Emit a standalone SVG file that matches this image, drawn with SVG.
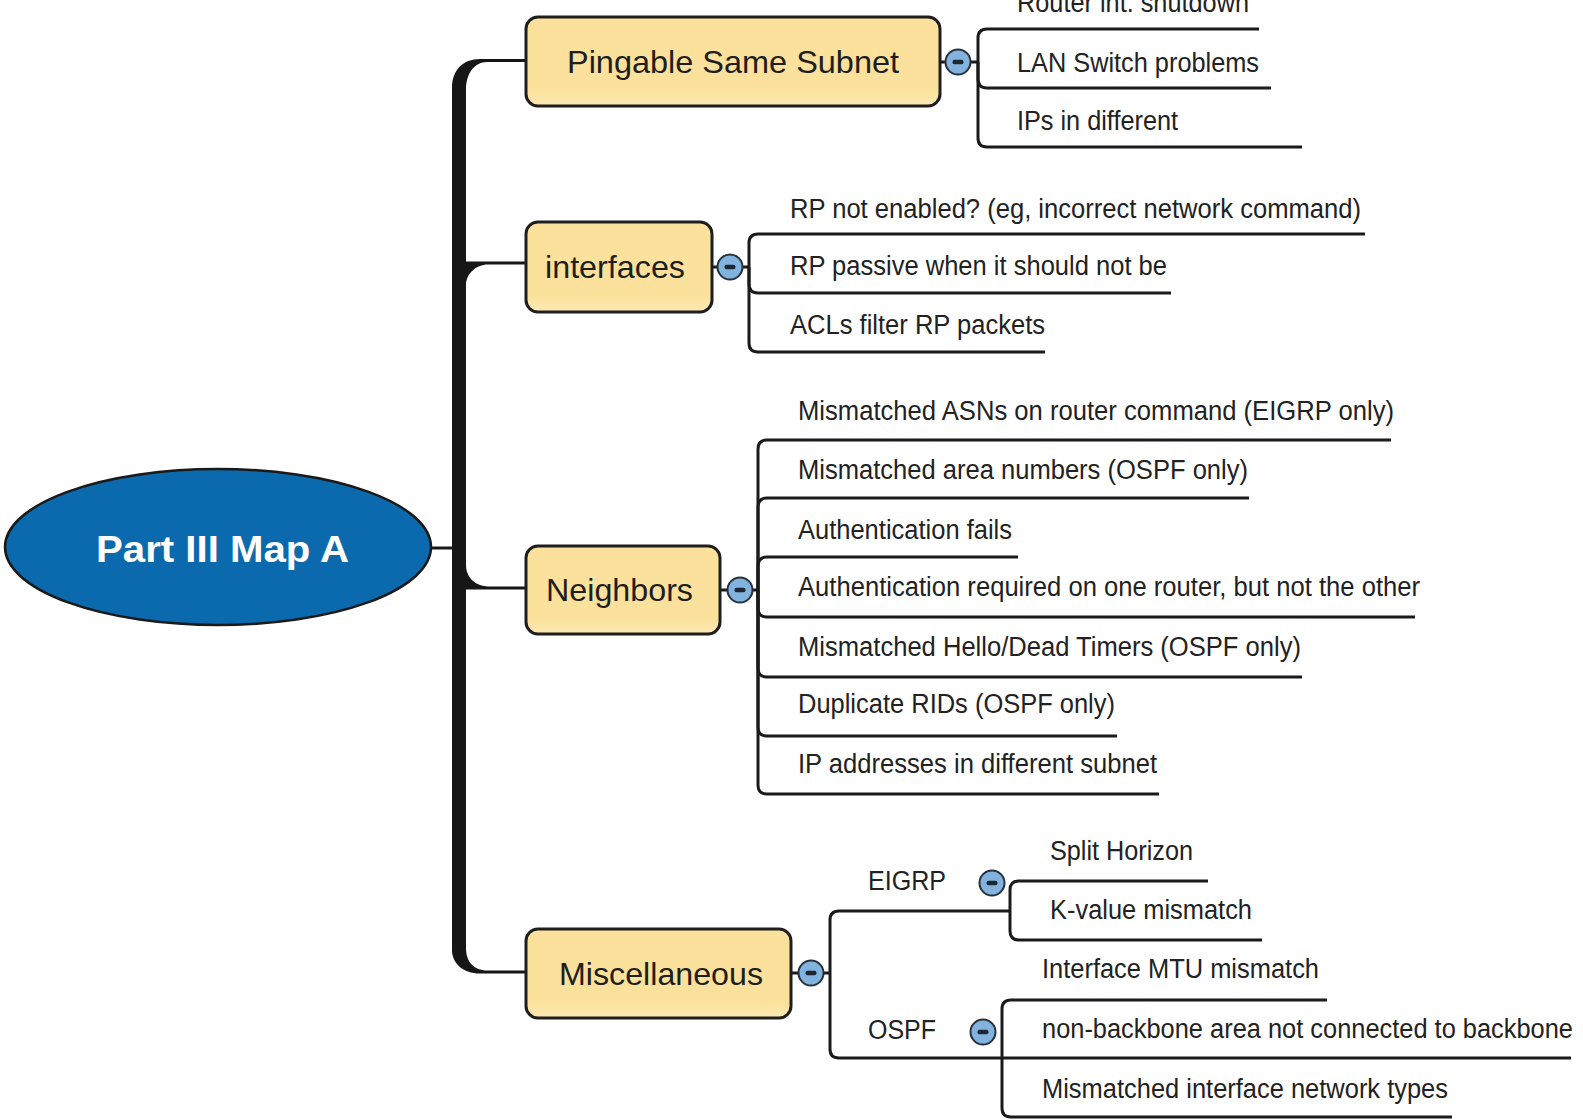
<svg xmlns="http://www.w3.org/2000/svg" width="1583" height="1120" viewBox="0 0 1583 1120">
  <defs>
    <linearGradient id="boxFill" x1="0" y1="0" x2="0" y2="1">
      <stop offset="0" stop-color="#FBE19B"/>
      <stop offset="0.82" stop-color="#FBE19B"/>
      <stop offset="1" stop-color="#FDEAB4"/>
    </linearGradient>
    <g id="toggle">
      <circle r="12.5" fill="#82B3DE" stroke="#27313B" stroke-width="2"/>
      <rect x="-5.5" y="-2.2" width="11" height="4.4" rx="2" fill="#1C2733"/>
    </g>
  </defs>
  <style>
    .box { fill: url(#boxFill); stroke: #1E1E1E; stroke-width: 3; }
    .boxText { font-family: "Liberation Sans", Arial, sans-serif; font-size: 32px; fill: #1E1E1E; }
    .leaf { font-family: "Liberation Sans", Arial, sans-serif; font-size: 27px; fill: #222222; }
    .wire { fill: none; stroke: #1A1A1A; stroke-width: 3; stroke-linecap: butt; }
    .trunk { fill: #161616; }
  </style>

  <rect width="1583" height="1120" fill="#FFFFFF"/>

  <!-- connectors -->
  <g id="connectors">
    <!-- main trunk with its four branches -->
    <path class="trunk" d="M526,59 H480 C463,59 452,70 452,88 V950 C452,963 463,973.5 480,973.5 H526 V970.5 H487 C474,970.5 466,962 466,948 V589.5 H526 V586.5 H490 C476,586.5 466,578 466,565 V285 C466,274 476,264.5 488,264.5 H526 V261.5 H466 V90 C466,74 474,62 487,62 H526 Z"/>
    <line class="wire" x1="430" y1="548" x2="453" y2="548"/>

    <!-- Pingable Same Subnet -->
    <path class="wire" d="M940,62 H946 M970,62 H978"/>
    <path class="wire" d="M978,62 V38 Q978,29 987,29 H1259"/>
    <path class="wire" d="M978,62 V79 Q978,88 987,88 H1271"/>
    <path class="wire" d="M978,62 V138 Q978,147 987,147 H1302"/>

    <!-- interfaces -->
    <path class="wire" d="M712,267 H718 M742,267 H749"/>
    <path class="wire" d="M749,267 V243 Q749,234 758,234 H1365"/>
    <path class="wire" d="M749,267 V284 Q749,293 758,293 H1171"/>
    <path class="wire" d="M749,267 V343 Q749,352 758,352 H1045"/>

    <!-- Neighbors -->
    <path class="wire" d="M720,590 H728 M752,590 H758"/>
    <path class="wire" d="M758,590 V449 Q758,440 767,440 H1391"/>
    <path class="wire" d="M758,590 V507 Q758,498 767,498 H1249"/>
    <path class="wire" d="M758,590 V566 Q758,557 767,557 H1018"/>
    <path class="wire" d="M758,590 V608 Q758,617 767,617 H1415"/>
    <path class="wire" d="M758,590 V668 Q758,677 767,677 H1302"/>
    <path class="wire" d="M758,590 V727 Q758,736 767,736 H1117"/>
    <path class="wire" d="M758,590 V785 Q758,794 767,794 H1159"/>

    <!-- Miscellaneous -->
    <path class="wire" d="M791,973 H799 M823,973 H830"/>
    <path class="wire" d="M830,973 V920 Q830,911 839,911 H1010"/>
    <path class="wire" d="M830,973 V1049 Q830,1058 839,1058 H1571"/>

    <!-- EIGRP -->
    <path class="wire" d="M1010,911 V890 Q1010,881 1019,881 H1208"/>
    <path class="wire" d="M1010,911 V931 Q1010,940 1019,940 H1262"/>

    <!-- OSPF -->
    <path class="wire" d="M1002,1058 V1009 Q1002,1000 1011,1000 H1327"/>
    <path class="wire" d="M1002,1058 V1108 Q1002,1117 1011,1117 H1452"/>
  </g>

  <!-- root -->
  <g id="root">
    <ellipse cx="218" cy="547" rx="213" ry="78" fill="#0B6AAD" stroke="#1A1A1A" stroke-width="2.5"/>
    <text x="96" y="562" textLength="253" lengthAdjust="spacingAndGlyphs" font-family="Liberation Sans, Arial, sans-serif" font-size="36" font-weight="bold" fill="#FFFFFF">Part III Map A</text>
  </g>

  <!-- Pingable Same Subnet -->
  <g id="pingable">
    <rect class="box" x="526" y="17" width="414" height="89" rx="12"/>
    <text class="boxText" x="567" y="73" textLength="332" lengthAdjust="spacingAndGlyphs">Pingable Same Subnet</text>
    <use href="#toggle" x="958" y="62"/>
    <text class="leaf" x="1017" y="12" textLength="232" lengthAdjust="spacingAndGlyphs">Router int. shutdown</text>
    <text class="leaf" x="1017" y="72" textLength="242" lengthAdjust="spacingAndGlyphs">LAN Switch problems</text>
    <text class="leaf" x="1017" y="130" textLength="161" lengthAdjust="spacingAndGlyphs">IPs in different</text>
  </g>

  <!-- interfaces -->
  <g id="interfaces">
    <rect class="box" x="526" y="222" width="186" height="90" rx="12"/>
    <text class="boxText" x="545" y="278" textLength="140" lengthAdjust="spacingAndGlyphs">interfaces</text>
    <use href="#toggle" x="730" y="267"/>
    <text class="leaf" x="790" y="218" textLength="571" lengthAdjust="spacingAndGlyphs">RP not enabled? (eg, incorrect network command)</text>
    <text class="leaf" x="790" y="275" textLength="377" lengthAdjust="spacingAndGlyphs">RP passive when it should not be</text>
    <text class="leaf" x="790" y="334" textLength="255" lengthAdjust="spacingAndGlyphs">ACLs filter RP packets</text>
  </g>

  <!-- Neighbors -->
  <g id="neighbors">
    <rect class="box" x="526" y="546" width="194" height="88" rx="12"/>
    <text class="boxText" x="546" y="601" textLength="147" lengthAdjust="spacingAndGlyphs">Neighbors</text>
    <use href="#toggle" x="740" y="590"/>
    <text class="leaf" x="798" y="420" textLength="596" lengthAdjust="spacingAndGlyphs">Mismatched ASNs on router command (EIGRP only)</text>
    <text class="leaf" x="798" y="479" textLength="450" lengthAdjust="spacingAndGlyphs">Mismatched area numbers (OSPF only)</text>
    <text class="leaf" x="798" y="539" textLength="214" lengthAdjust="spacingAndGlyphs">Authentication fails</text>
    <text class="leaf" x="798" y="596" textLength="622" lengthAdjust="spacingAndGlyphs">Authentication required on one router, but not the other</text>
    <text class="leaf" x="798" y="656" textLength="503" lengthAdjust="spacingAndGlyphs">Mismatched Hello/Dead Timers (OSPF only)</text>
    <text class="leaf" x="798" y="713" textLength="317" lengthAdjust="spacingAndGlyphs">Duplicate RIDs (OSPF only)</text>
    <text class="leaf" x="798" y="773" textLength="359" lengthAdjust="spacingAndGlyphs">IP addresses in different subnet</text>
  </g>

  <!-- Miscellaneous -->
  <g id="miscellaneous">
    <rect class="box" x="526" y="929" width="265" height="89" rx="12"/>
    <text class="boxText" x="559" y="985" textLength="204" lengthAdjust="spacingAndGlyphs">Miscellaneous</text>
    <use href="#toggle" x="811" y="973"/>
  </g>

  <!-- EIGRP -->
  <g id="eigrp">
    <text class="leaf" x="868" y="890" textLength="78" lengthAdjust="spacingAndGlyphs">EIGRP</text>
    <use href="#toggle" x="992" y="883"/>
    <text class="leaf" x="1050" y="860" textLength="143" lengthAdjust="spacingAndGlyphs">Split Horizon</text>
    <text class="leaf" x="1050" y="919" textLength="202" lengthAdjust="spacingAndGlyphs">K-value mismatch</text>
  </g>

  <!-- OSPF -->
  <g id="ospf">
    <text class="leaf" x="868" y="1039" textLength="68" lengthAdjust="spacingAndGlyphs">OSPF</text>
    <use href="#toggle" x="983" y="1032"/>
    <text class="leaf" x="1042" y="978" textLength="277" lengthAdjust="spacingAndGlyphs">Interface MTU mismatch</text>
    <text class="leaf" x="1042" y="1038" textLength="531" lengthAdjust="spacingAndGlyphs">non-backbone area not connected to backbone</text>
    <text class="leaf" x="1042" y="1098" textLength="406" lengthAdjust="spacingAndGlyphs">Mismatched interface network types</text>
  </g>
</svg>
